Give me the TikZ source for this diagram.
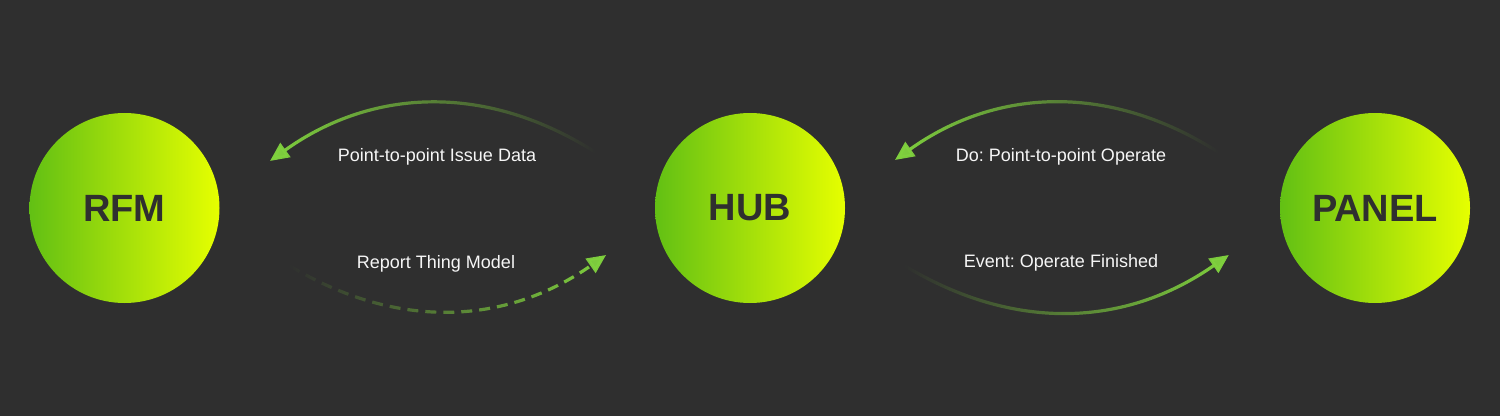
\documentclass[tikz,border=0pt]{standalone}
\usepackage{fontspec}
\setmainfont{Liberation Sans}
\usetikzlibrary{arrows.meta,fadings,positioning}
\definecolor{bgc}{HTML}{2F2F2F}
\definecolor{lime}{HTML}{E6FF00}
\definecolor{leaf}{HTML}{62C014}
\definecolor{arrowgreen}{HTML}{80D23E}
\definecolor{labelwhite}{HTML}{F6F6F6}
\tikzfading[name=fade out right, left color=transparent!0, middle color=transparent!0, right color=transparent!100]
\tikzfading[name=fade out left, left color=transparent!100, middle color=transparent!0, right color=transparent!0]
\frenchspacing

\begin{document}
\begin{tikzpicture}[x=1pt, y=1pt,
    device/.style={circle, minimum size=190pt, inner sep=0pt, left color=leaf, right color=lime,
      text=bgc, font=\bfseries\fontsize{38}{40}\selectfont},
    msg/.style={text=labelwhite, font=\fontsize{18}{20}\selectfont},
    flow/.style={arrowgreen, line width=3.2pt, -{Triangle[length=19pt,width=17pt]}},
    back/.style={flow, path fading=fade out right},
    forth/.style={flow, path fading=fade out left}]
        \fill[bgc] (0,0) rectangle (1500,416);
        \useasboundingbox (0,0) rectangle (1500,416);
        %nodes
        \node[device] (rfm) at (124.5,208) {RFM};
        \node[device] (hub) at (750,208) {HUB};
        \node[device] (panel) at (1375,208) {PANEL};
        %labels
        \node[msg] (issue) at (437,259) {Point-to-point Issue Data};
        \node[msg] (report) at (436,152) {Report Thing Model};
        \node[msg] (operate) at (1061,259) {Do: Point-to-point Operate};
        \node[msg] (finished) at (1061,153) {Event: Operate Finished};
        %arc ends
        \coordinate (issue s) at (595,264);
        \coordinate (issue e) at (270,255);
        \coordinate (report s) at (290,150);
        \coordinate (report e) at (606,161);
        \coordinate (operate s) at (1218,264);
        \coordinate (operate e) at (895,256);
        \coordinate (finished s) at (905,150);
        \coordinate (finished e) at (1229,161);
        %edges
        \path [draw, back] (issue s) to[bend right=34] (issue e);
        \path [draw, forth, dash pattern=on 11pt off 7pt] (report s) to[bend right=33] (report e);
        \path [draw, back] (operate s) to[bend right=34] (operate e);
        \path [draw, forth] (finished s) to[bend right=33] (finished e);
      \end{tikzpicture}
\end{document}
